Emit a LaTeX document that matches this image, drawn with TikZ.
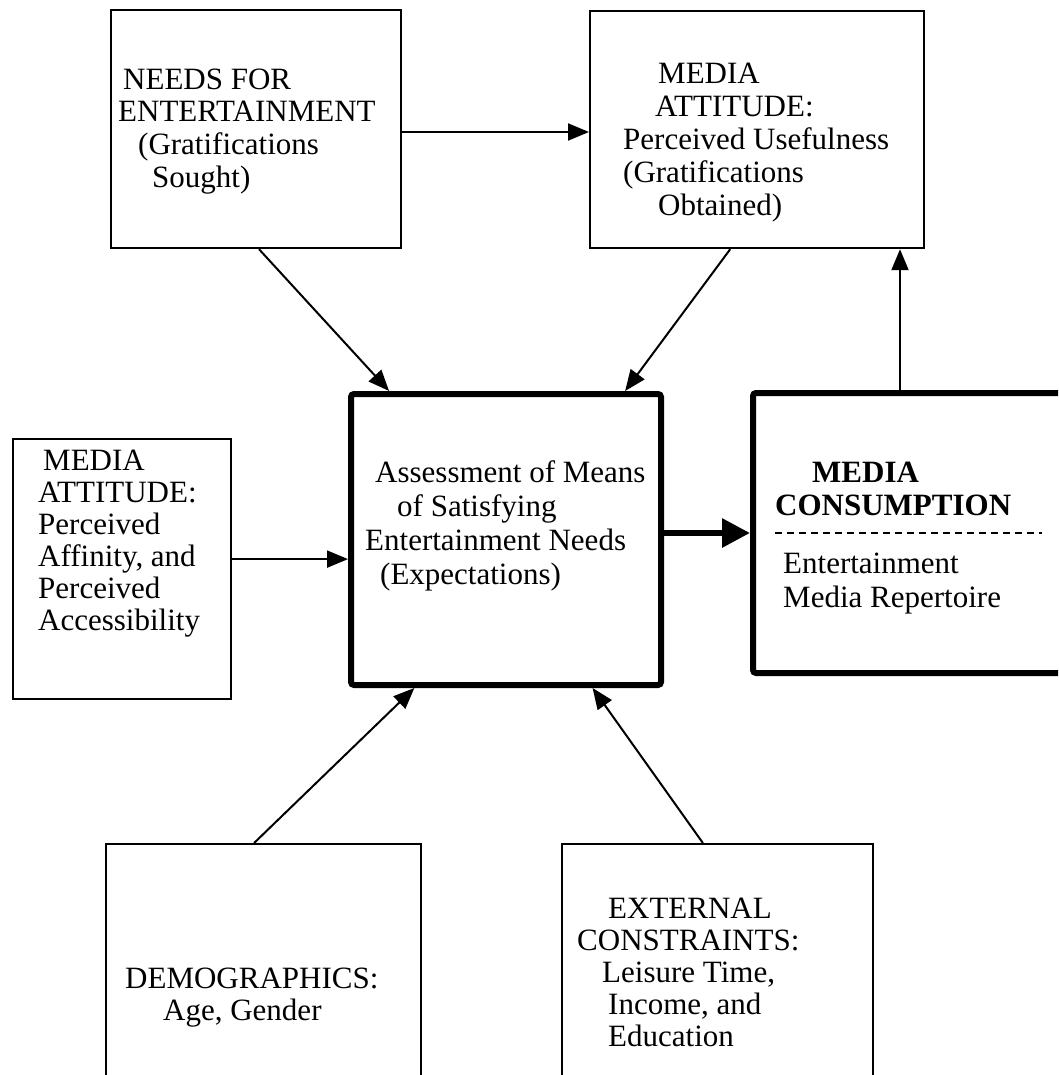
\documentclass[tikz,border=0pt]{standalone}
\usepackage{fontspec}
\setmainfont{Liberation Serif}
\usetikzlibrary{arrows.meta,calc}
\begin{document}
\begin{tikzpicture}[x=1pt,y=-1pt,
  thinbox/.style={draw, line width=2.2pt, inner sep=0pt, anchor=north west},
  thickbox/.style={draw, line width=6pt, rounded corners=3pt, inner sep=0pt, anchor=north west},
  lbl/.style={anchor=base west, inner sep=0pt, font=\fontsize{31}{34}\selectfont},
  blbl/.style={lbl, font=\fontsize{31}{34}\selectfont\bfseries},
  arr/.style={line width=2pt, -{Triangle[length=21pt,width=17pt]}},
  thickarr/.style={line width=6pt, -{Triangle[length=28pt,width=28pt]}}
]
\useasboundingbox (0,0) rectangle (1058,1075);
\fill[white] (0,0) rectangle (1058,1075);
\clip (0,0) rectangle (1058,1075);

% boxes
\node[thinbox, minimum width=290pt, minimum height=238pt] (needs) at (110,9) {};
\node[thinbox, minimum width=334pt, minimum height=237pt] (ma1) at (589,10) {};
\node[thickbox, minimum width=310pt, minimum height=291pt] (center) at (348,391) {};
\node[thickbox, minimum width=340pt, minimum height=280pt] (mc) at (750,390) {};
\node[thinbox, minimum width=218pt, minimum height=260pt] (left) at (12,438) {};
\node[thinbox, minimum width=315pt, minimum height=260pt] (demo) at (105,843) {};
\node[thinbox, minimum width=311pt, minimum height=260pt] (ext) at (561,843) {};

% texts
\node[lbl] (n1) at (123,90) {NEEDS FOR};
\node[lbl] (n2) at (118,122) {ENTERTAINMENT};
\node[lbl] (n3) at (138,155) {(Gratifications};
\node[lbl] (n4) at (152,188) {Sought)};

\node[lbl] (m1) at (658,84) {MEDIA};
\node[lbl] (m2) at (655,117) {ATTITUDE:};
\node[lbl] (m3) at (623,150) {Perceived Usefulness};
\node[lbl] (m4) at (623,183) {(Gratifications};
\node[lbl] (m5) at (658,216) {Obtained)};

\node[lbl] (c1) at (375,482) {Assessment of Means};
\node[lbl] (c2) at (397,516) {of Satisfying};
\node[lbl] (c3) at (365,550) {Entertainment Needs};
\node[lbl] (c4) at (380,584) {(Expectations)};

\node[blbl] (k1) at (812,482) {MEDIA};
\node[blbl] (k2) at (775,515) {CONSUMPTION};
\node[lbl] (k3) at (783,573) {Entertainment};
\node[lbl] (k4) at (783,607) {Media Repertoire};
\draw[line width=1.5pt, dash pattern=on 7pt off 5pt] (775,533) -- (1042,533);

\node[lbl] (l1) at (43,470) {MEDIA};
\node[lbl] (l2) at (38,502) {ATTITUDE:};
\node[lbl] (l3) at (38,534) {Perceived};
\node[lbl] (l4) at (38,566) {Affinity, and};
\node[lbl] (l5) at (38,598) {Perceived};
\node[lbl] (l6) at (38,630) {Accessibility};

\node[lbl] (d1) at (125,988) {DEMOGRAPHICS:};
\node[lbl] (d2) at (163,1020) {Age, Gender};

\node[lbl] (e1) at (608,918) {EXTERNAL};
\node[lbl] (e2) at (577,950) {CONSTRAINTS:};
\node[lbl] (e3) at (602,982) {Leisure Time,};
\node[lbl] (e4) at (608,1014) {Income, and};
\node[lbl] (e5) at (608,1046) {Education};

% connectors
\coordinate (nsE) at ($(needs.north east)+(0,123)$);
\draw[arr] (nsE) -- (nsE -| ma1.west);
\draw[arr] ($(needs.south west)!0.51!(needs.south east)$) -- ($(center.north west)!0.13!(center.north east)$);
\draw[arr] ($(ma1.south west)!0.42!(ma1.south east)$) -- ($(center.north west)!0.877!(center.north east)$);
\coordinate (mcT) at ($(mc.north west)+(150,0)$);
\draw[arr] (mcT) -- (mcT |- ma1.south);
\coordinate (lfE) at ($(left.east)+(0,-10)$);
\draw[arr] (lfE) -- (lfE -| center.west);
\draw[thickarr] (center.east |- mc.west) -- (mc.west);
\draw[arr] ($(demo.north west)!0.47!(demo.north east)$) -- ($(center.south west)!0.21!(center.south east)$);
\draw[arr] ($(ext.north west)!0.453!(ext.north east)$) -- ($(center.south west)!0.774!(center.south east)$);
\end{tikzpicture}
\end{document}
